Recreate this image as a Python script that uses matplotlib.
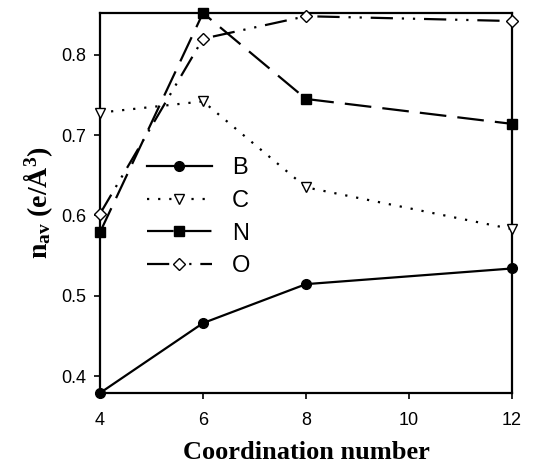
import matplotlib
matplotlib.use("Agg")
import matplotlib.pyplot as plt

plt.rcParams['mathtext.fontset'] = 'custom'
plt.rcParams['mathtext.rm'] = 'Liberation Serif'
plt.rcParams['mathtext.bf'] = 'Liberation Serif:bold'
plt.rcParams['mathtext.it'] = 'Liberation Serif:italic'

x = [4, 6, 8, 12]
B = [0.379, 0.466, 0.5145, 0.534]
C = [0.728, 0.742, 0.635, 0.583]
N = [0.579, 0.852, 0.745, 0.714]
O = [0.602, 0.820, 0.848, 0.842]
xticks = [4, 6, 8, 10, 12]
yticks = [0.4, 0.5, 0.6, 0.7, 0.8]

fig = plt.figure(figsize=(5.34, 4.67), dpi=100)
ax = fig.add_axes([100/534, (467-393)/467, 412/534, 380/467])

kw = dict(color='black', lw=1.6, clip_on=False, zorder=3)
ax.plot(x, B, '-', marker='o', ms=7, mfc='black', mec='black', label='B', **kw)
ax.plot(x, C, linestyle=(0, (1, 4)), marker='v', ms=7, mfc='white', mec='black', mew=1, label='C', **kw)
ax.plot(x, N, linestyle=(0, (12, 5)), marker='s', ms=6.5, mfc='black', mec='black', label='N', **kw)
ax.plot(x, O, linestyle=(0, (10, 4, 1, 4, 1, 4)), marker='D', ms=6, mfc='white', mec='black', mew=1, label='O', **kw)

ax.set_xlim(4, 12)
ax.set_ylim(0.379, 0.852)
ax.set_xticks(xticks)
ax.set_yticks(yticks)
ax.set_xticklabels([str(v) for v in xticks], fontsize=13, family='Liberation Sans')
ax.set_yticklabels([f"{v:.1f}" for v in yticks], fontsize=13, family='Liberation Sans')
ax.tick_params(direction='out', length=4, width=1.2, pad=6)
ax.tick_params(axis='x', pad=10)
for s in ax.spines.values():
    s.set_linewidth(1.6)

ax.set_xlabel('Coordination number', fontsize=19, fontweight='bold', family='Liberation Serif', labelpad=8)
ax.set_ylabel(r'$\mathbf{n}_{\mathbf{av}}$ (e/Å$^{\mathbf{3}}$)', fontsize=20, fontweight='bold',
              family='Liberation Serif', labelpad=4)

leg = ax.legend(loc='upper left', bbox_to_anchor=(0.091, 0.645), frameon=False,
                prop={'family': 'Liberation Sans', 'size': 17}, handlelength=2.75,
                labelspacing=0.45, handletextpad=0.85, borderaxespad=0)

fig.savefig('out.png', dpi=100)
